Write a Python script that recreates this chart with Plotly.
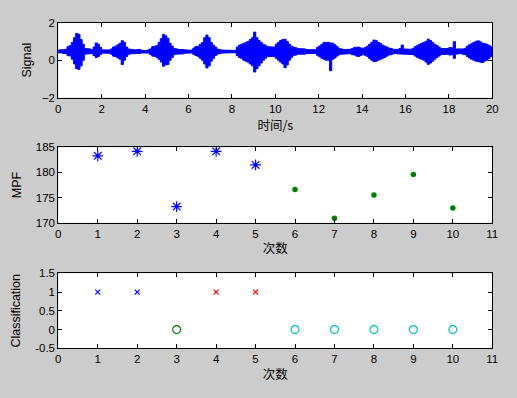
import plotly.graph_objects as go

# ---- Data ----
# Signal envelope, 0.1 s bins (bin i spans i*0.1 .. (i+1)*0.1 s)
bin_width = 0.1
sig_hi = [0.55, 0.52, 0.56, 0.58, 0.72, 0.78, 0.95, 1.2, 1.43, 1.38, 1.1, 0.85,
          0.62, 0.58, 0.6, 0.56, 0.7, 0.92, 0.85, 0.68, 0.55, 0.52, 0.54, 0.55, 0.6,
          0.7, 0.75, 0.82, 0.9, 1.04, 0.95, 0.7, 0.6, 0.58, 0.56, 0.55, 0.54, 0.58, 0.53, 0.52,
          0.5, 0.55, 0.6, 0.72, 0.75, 0.78, 0.95, 1.15, 1.37, 1.3, 1.17, 0.9, 0.75,
          0.63, 0.6, 0.58, 0.56, 0.58, 0.55, 0.54, 0.53, 0.54,
          0.65, 0.72, 0.75, 0.85, 0.95, 1.2, 1.34, 1.2, 0.95, 0.8, 0.7, 0.6,
          0.56, 0.54, 0.52, 0.5, 0.5, 0.5, 0.5, 0.52,
          0.7, 0.8, 0.85, 0.9, 0.95, 1.0, 1.1, 1.2, 1.5, 1.2, 1.05, 0.95, 0.85, 0.8,
          0.72, 0.7, 0.68, 0.7,
          0.85, 0.95, 1.05, 1.1, 1.12, 1.0, 0.85, 0.75,
          0.7, 0.66, 0.62, 0.6, 0.58, 0.6, 0.56, 0.55, 0.54, 0.52,
          0.56, 0.68, 0.76, 0.85, 0.95, 0.99, 0.95, 0.92, 0.9, 0.82, 0.72, 0.62,
          0.6, 0.57, 0.6, 0.56, 0.58, 0.62, 0.68, 0.72, 0.7, 0.66, 0.63, 0.68, 0.75,
          0.85, 0.95, 1.08, 1.05, 0.95, 0.9, 0.8, 0.75, 0.7,
          0.65, 0.62, 0.58, 0.56, 0.58, 0.62, 0.81, 0.6, 0.62, 0.6, 0.58, 0.63,
          0.72, 0.78, 0.85, 0.9, 0.95, 1.0, 1.12, 1.05, 0.95, 0.85, 0.78, 0.7,
          0.62, 0.6, 0.58, 0.62, 0.68, 0.65, 0.99,
          0.6, 0.58, 0.56, 0.6, 0.63,
          0.75, 0.82, 0.88, 0.95, 1.0, 1.04, 0.98, 0.92, 0.88, 0.85, 0.8, 0.72]
sig_lo = [0.38, 0.4, 0.36, 0.35, 0.25, 0.22, 0.05, -0.2, -0.45, -0.49, -0.3, 0.0,
          0.32, 0.34, 0.34, 0.36, 0.25, 0.14, 0.2, 0.3, 0.38, 0.4, 0.38, 0.37, 0.32,
          0.22, 0.18, 0.12, 0.05, -0.23, 0.0, 0.2, 0.32, 0.34, 0.36, 0.37, 0.38, 0.36, 0.39, 0.4,
          0.42, 0.38, 0.3, 0.22, 0.2, 0.15, 0.05, -0.1, -0.32, -0.25, -0.22, 0.0, 0.15,
          0.3, 0.32, 0.34, 0.35, 0.34, 0.37, 0.38, 0.39, 0.39,
          0.3, 0.25, 0.2, 0.1, 0.0, -0.2, -0.41, -0.3, -0.05, 0.1, 0.25, 0.32,
          0.36, 0.38, 0.4, 0.42, 0.42, 0.42, 0.42, 0.4,
          0.25, 0.15, 0.1, 0.0, -0.05, -0.1, -0.2, -0.3, -0.63, -0.45, -0.3, -0.15, 0.0, 0.1,
          0.2, 0.2, 0.22, 0.2,
          0.1, 0.0, -0.1, -0.2, -0.4, -0.25, 0.0, 0.15,
          0.25, 0.28, 0.32, 0.33, 0.34, 0.32, 0.36, 0.37, 0.38, 0.4,
          0.36, 0.26, 0.18, 0.1, 0.05, 0.0, 0.0, -0.56, 0.05, 0.12, 0.22, 0.3,
          0.32, 0.34, 0.32, 0.36, 0.35, 0.3, 0.27, 0.22, 0.2, 0.26, 0.3, 0.26, 0.2,
          0.1, 0.0, -0.08, -0.05, 0.0, 0.05, 0.1, 0.15, 0.22,
          0.28, 0.3, 0.34, 0.36, 0.34, 0.32, 0.3, 0.32, 0.3, 0.32, 0.34, 0.3,
          0.22, 0.15, 0.1, 0.05, 0.0, -0.1, -0.22, -0.15, -0.05, 0.05, 0.15, 0.22,
          0.3, 0.32, 0.34, 0.32, 0.27, 0.3, 0.1,
          0.32, 0.34, 0.36, 0.32, 0.3,
          0.2, 0.12, 0.05, 0.0, -0.05, -0.08, -0.1, -0.13, -0.05, 0.0, 0.1, 0.2]

trials = [1, 2, 3, 4, 5, 6, 7, 8, 9, 10]
mpf = [183.3, 184.2, 173.2, 184.2, 181.5, 176.6, 170.9, 175.5, 179.6, 172.9]
classification = [1, 1, 0, 1, 1, 0, 0, 0, 0, 0]

sig_xticks = [0, 2, 4, 6, 8, 10, 12, 14, 16, 18, 20]
sig_yticks = [-2, 0, 2]
trial_xticks = [0, 1, 2, 3, 4, 5, 6, 7, 8, 9, 10, 11]
mpf_yticks = [170, 175, 180, 185]
cls_yticks = [-0.5, 0, 0.5, 1, 1.5]
cls_yticklabels = ["-0.5", "0", "0.5", "1", "1.5"]

# ---- Build filled stepped envelope polygon ----
top_x, top_y, bot_x, bot_y = [], [], [], []
for i, (h, l) in enumerate(zip(sig_hi, sig_lo)):
    x0, x1 = i * bin_width, (i + 1) * bin_width
    top_x += [x0, x1]
    top_y += [h, h]
    bot_x += [x0, x1]
    bot_y += [l, l]
poly_x = top_x + bot_x[::-1] + [top_x[0]]
poly_y = top_y + bot_y[::-1] + [top_y[0]]

BLUE = "#0000ff"
GREEN = "#008000"
RED = "#ff0000"
CYAN = "#00bfbf"

fig = go.Figure()
fig.add_trace(go.Scatter(x=poly_x, y=poly_y, mode="lines", fill="toself",
                         fillcolor=BLUE, line=dict(color=BLUE, width=1),
                         xaxis="x", yaxis="y", showlegend=False, hoverinfo="skip"))

# MPF plot
fig.add_trace(go.Scatter(x=trials[:5], y=mpf[:5], mode="markers",
                         marker=dict(symbol="asterisk-open", size=9, color=BLUE,
                                     line=dict(color=BLUE, width=1.2)),
                         xaxis="x2", yaxis="y2", showlegend=False))
fig.add_trace(go.Scatter(x=trials[5:], y=mpf[5:], mode="markers",
                         marker=dict(symbol="circle", size=5.5, color=GREEN),
                         xaxis="x2", yaxis="y2", showlegend=False))

# Classification plot
groups = [
    (trials[0:2], classification[0:2], "x-thin-open", BLUE, 5),
    (trials[2:3], classification[2:3], "circle-open", GREEN, 8),
    (trials[3:5], classification[3:5], "x-thin-open", RED, 5),
    (trials[5:], classification[5:], "circle-open", CYAN, 8),
]
for gx, gy, sym, col, sz in groups:
    fig.add_trace(go.Scatter(x=gx, y=gy, mode="markers",
                             marker=dict(symbol=sym, size=sz, color=col,
                                         line=dict(color=col, width=1.2)),
                             xaxis="x3", yaxis="y3", showlegend=False))

FONT = "Liberation Sans, Arial, sans-serif"
CJK = "Noto Sans CJK SC, sans-serif"
xdom = [58.3 / 517, 492.3 / 517]


def ax_common():
    return dict(showgrid=False, zeroline=False, showline=True, linecolor="black",
                linewidth=1, mirror="ticks", ticks="inside", ticklen=4,
                tickcolor="black", tickwidth=1, automargin=False,
                tickfont=dict(family=FONT, size=11.5, color="black"))


fig.update_layout(
    width=517, height=398,
    margin=dict(l=0, r=0, t=0, b=0, autoexpand=False),
    paper_bgcolor="#cccccc", plot_bgcolor="white",
    xaxis=dict(domain=xdom, anchor="y", range=[0, 20], tickvals=sig_xticks,
               title=dict(text="时间/s", font=dict(family=CJK, size=12.5, color="black"),
                          standoff=2), **ax_common()),
    yaxis=dict(domain=[1 - 97.7 / 398, 1 - 22.7 / 398], anchor="x", range=[-2, 2],
               tickvals=sig_yticks,
               title=dict(text="Signal", font=dict(family=FONT, size=12.5, color="black"),
                          standoff=7), **ax_common()),
    xaxis2=dict(domain=xdom, anchor="y2", range=[0, 11], tickvals=trial_xticks,
                title=dict(text="次数", font=dict(family=CJK, size=12.5, color="black"),
                           standoff=5), **ax_common()),
    yaxis2=dict(domain=[1 - 222.7 / 398, 1 - 147.3 / 398], anchor="x2", range=[170, 185],
                tickvals=mpf_yticks,
                title=dict(text="MPF", font=dict(family=FONT, size=12.5, color="black"),
                           standoff=11), **ax_common()),
    xaxis3=dict(domain=xdom, anchor="y3", range=[0, 11], tickvals=trial_xticks,
                title=dict(text="次数", font=dict(family=CJK, size=12.5, color="black"),
                           standoff=6), **ax_common()),
    yaxis3=dict(domain=[1 - 348.3 / 398, 1 - 273.3 / 398], anchor="x3", range=[-0.5, 1.5],
                tickvals=cls_yticks, ticktext=cls_yticklabels,
                title=dict(text="Classification", font=dict(family=FONT, size=12.5, color="black"),
                           standoff=11), **ax_common()),
)

fig.write_html("out.html")
